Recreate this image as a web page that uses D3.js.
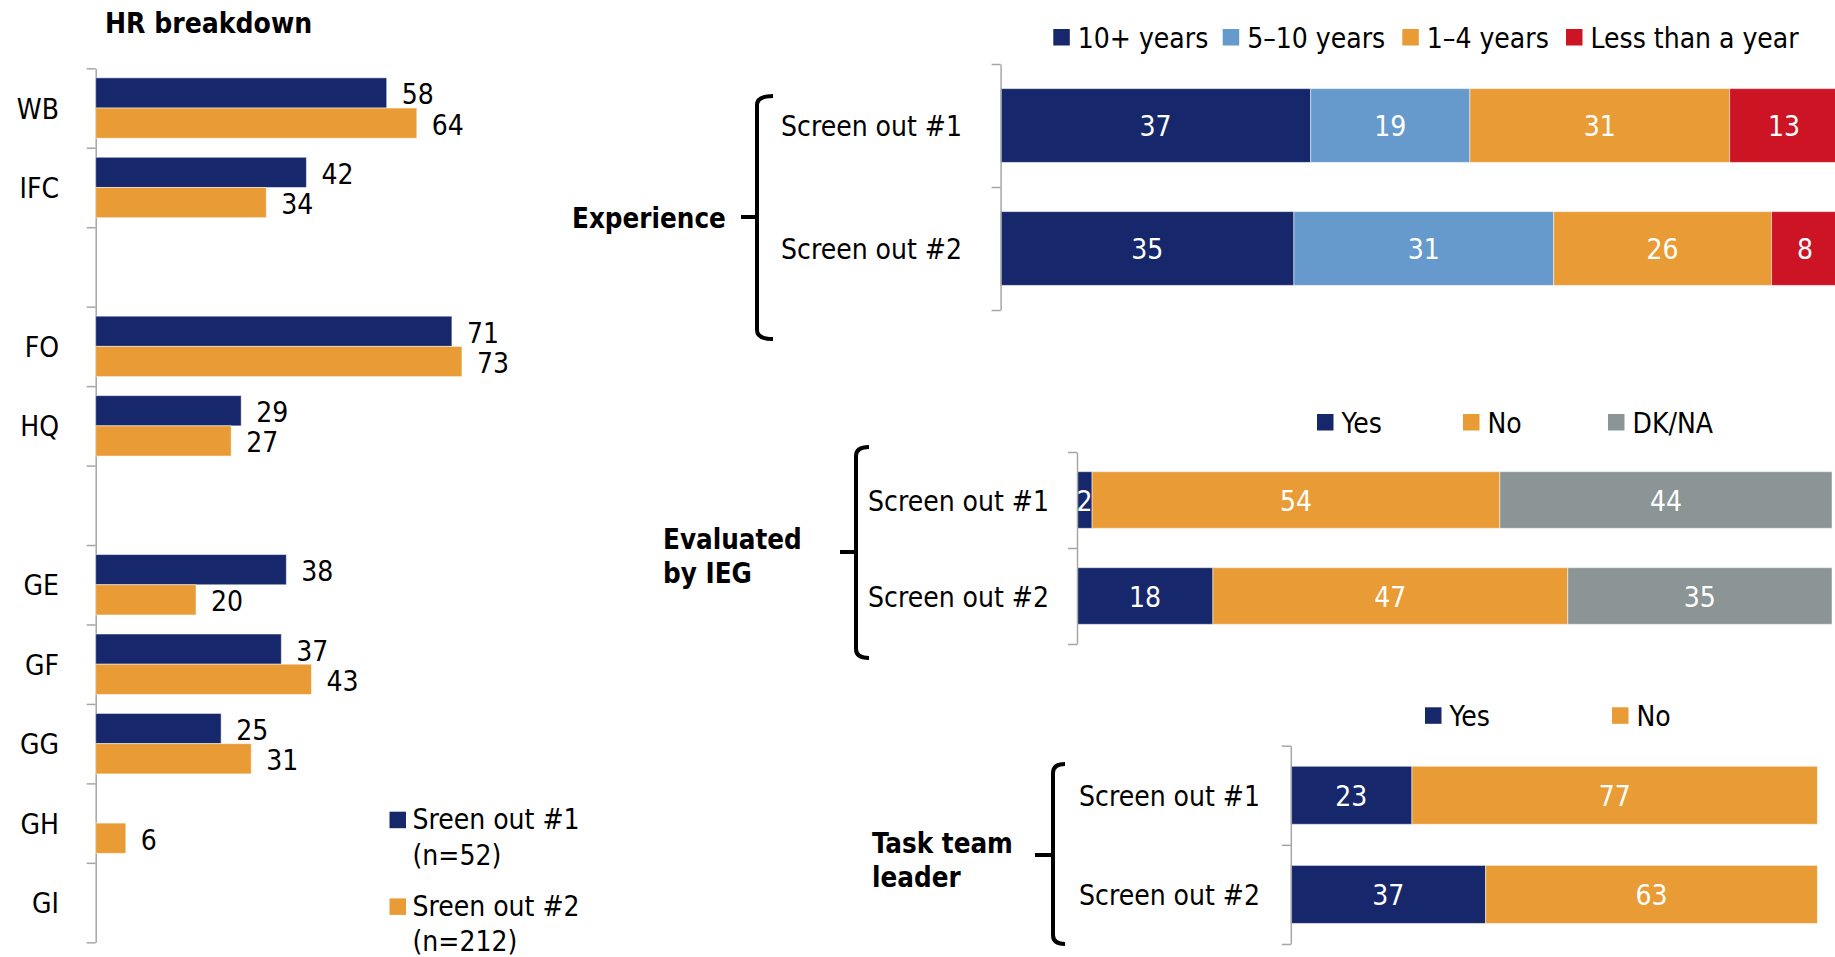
<!DOCTYPE html>
<html>
<head>
<meta charset="utf-8">
<script src="https://cdn.jsdelivr.net/npm/d3@7"></script>
<style>
  body { margin: 0; background: #fff; }
  svg { display: block; }
</style>
</head>
<body>
<svg id="chart" width="1835" height="957"></svg>
<script>
// HR breakdown (left chart)
const hrCategories = ["WB", "IFC", "", "FO", "HQ", " ", "GE", "GF", "GG", "GH", "GI"];
const hrScreen1 = [58, 42, null, 71, 29, null, 38, 37, 25, null, null];
const hrScreen2 = [64, 34, null, 73, 27, null, 20, 43, 31, 6, null];
const hrSeries = ["Sreen out #1", "Sreen out #2"];
const hrSeriesN = ["(n=52)", "(n=212)"];

// stacked charts (right)
const rowLabels = ["Screen out #1", "Screen out #2"];

const expKeys = ["10+ years", "5–10 years", "1–4 years", "Less than a year"];
const exp10plus = [37, 35];
const exp5to10 = [19, 31];
const exp1to4 = [31, 26];
const expLess = [13, 8];

const iegKeys = ["Yes", "No", "DK/NA"];
const iegYes = [2, 18];
const iegNo = [54, 47];
const iegDk = [44, 35];

const ttlKeys = ["Yes", "No"];
const ttlYes = [23, 37];
const ttlNo = [77, 63];

const navy = "#16286b", orange = "#e99b35", lblue = "#6699cc", red = "#cc1424", grey = "#8c9595";
const axisGrey = "#a6a6a6";
const FONT = "'DejaVu Sans Condensed', 'DejaVu Sans', sans-serif";
const FS = 28;

const svg = d3.select("#chart")
    .style("font-family", FONT);

// ---------- left chart ----------
const hrX = d3.scaleLinear().domain([0, 100]).range([95.7, 597.4]);
const hrY = d3.scaleBand().domain(hrCategories).range([68.3, 942.3]);
const hrInner = d3.scaleBand().domain([0, 1])
    .range([0, hrY.bandwidth()]).paddingOuter(0.315);

const left = svg.append("g");

left.append("text")
    .attr("x", 105).attr("y", 33)
    .style("font-weight", "bold").style("font-size", "28px")
    .text("HR breakdown");

const hrAxisScale = d3.scaleLinear().domain([0, hrCategories.length]).range(hrY.range());
left.append("g")
    .attr("transform", `translate(${hrX(0)},0)`)
    .call(d3.axisLeft(hrAxisScale).tickValues(d3.range(hrCategories.length + 1))
        .tickSize(9).tickSizeOuter(0).tickFormat(""))
    .call(g => g.selectAll("path,line").attr("stroke", axisGrey).attr("stroke-width", 1.5));

left.selectAll("text.cat")
    .data(hrCategories)
    .join("text")
    .attr("class", "cat")
    .attr("x", 59)
    .attr("y", d => hrY(d) + hrY.bandwidth() / 2)
    .attr("dy", "0.38em")
    .attr("text-anchor", "end")
    .style("font-size", FS + "px")
    .text(d => d.trim());

const hrData = [];
hrCategories.forEach((c, i) => {
    [hrScreen1[i], hrScreen2[i]].forEach((v, s) => {
        if (v != null) hrData.push({cat: c, s: s, v: v});
    });
});

left.selectAll("rect.hr")
    .data(hrData)
    .join("rect")
    .attr("class", "hr")
    .attr("x", hrX(0))
    .attr("y", d => hrY(d.cat) + hrInner(d.s))
    .attr("width", d => hrX(d.v) - hrX(0))
    .attr("height", hrInner.bandwidth())
    .attr("fill", d => d.s === 0 ? navy : orange)
    .attr("stroke", "rgba(255,255,255,0.5)")
    .attr("stroke-width", 1);

left.selectAll("text.hrv")
    .data(hrData)
    .join("text")
    .attr("class", "hrv")
    .attr("x", d => hrX(d.v) + 15)
    .attr("y", d => hrY(d.cat) + hrInner(d.s) + hrInner.bandwidth() / 2)
    .attr("dy", "0.41em")
    .style("font-size", FS + "px")
    .text(d => d.v);

// legend
const hrLeg = left.selectAll("g.hrleg")
    .data(hrSeries)
    .join("g")
    .attr("class", "hrleg")
    .attr("transform", (d, i) => `translate(389.5,${811.7 + i * 86.7})`);
hrLeg.append("rect")
    .attr("width", 16.5).attr("height", 16.5)
    .attr("fill", (d, i) => i === 0 ? navy : orange);
hrLeg.append("text")
    .attr("x", 23).attr("y", 17.6)
    .style("font-size", FS + "px")
    .text(d => d);
hrLeg.append("text")
    .attr("x", 23).attr("y", 53)
    .style("font-size", FS + "px")
    .text((d, i) => hrSeriesN[i]);

// ---------- stacked charts ----------
function drawStacked(cfg) {
    const g = svg.append("g");
    const table = rowLabels.map((r, i) => {
        const o = {row: r};
        cfg.keys.forEach((k, j) => o[k] = cfg.values[j][i]);
        return o;
    });
    const series = d3.stack().keys(cfg.keys)(table);

    const x = d3.scaleLinear().domain([0, 100]).range(cfg.xRange);
    const y = d3.scaleBand().domain(rowLabels).range(cfg.yRange);
    const color = d3.scaleOrdinal().domain(cfg.keys).range(cfg.colors);
    const off = y.bandwidth() * (1 - cfg.barFrac) / 2;
    const bh = y.bandwidth() * cfg.barFrac;

    const layer = g.selectAll("g.layer")
        .data(series)
        .join("g")
        .attr("fill", d => color(d.key));

    layer.selectAll("rect")
        .data(d => d)
        .join("rect")
        .attr("x", d => x(d[0]))
        .attr("y", d => y(d.data.row) + off)
        .attr("width", d => x(d[1]) - x(d[0]))
        .attr("height", bh)
        .attr("stroke", "rgba(255,255,255,0.5)")
        .attr("stroke-width", 1);

    layer.selectAll("text")
        .data(d => d)
        .join("text")
        .attr("x", d => (x(d[0]) + x(d[1])) / 2)
        .attr("y", d => y(d.data.row) + y.bandwidth() / 2)
        .attr("dy", "0.39em")
        .attr("text-anchor", "middle")
        .attr("fill", "#fff")
        .style("font-size", FS + "px")
        .text(d => d[1] - d[0]);

    // axis
    const axScale = d3.scaleLinear().domain([0, rowLabels.length]).range(cfg.yRange);
    g.append("g")
        .attr("transform", `translate(${x(0)},0)`)
        .call(d3.axisLeft(axScale).tickValues(d3.range(rowLabels.length + 1))
            .tickSize(9).tickSizeOuter(0).tickFormat(""))
        .call(a => a.selectAll("path,line").attr("stroke", axisGrey).attr("stroke-width", 1.5));

    // row labels
    g.selectAll("text.row")
        .data(rowLabels)
        .join("text")
        .attr("class", "row")
        .attr("x", cfg.labelRight)
        .attr("y", d => y(d) + y.bandwidth() / 2)
        .attr("dy", "0.39em")
        .attr("text-anchor", "end")
        .style("font-size", FS + "px")
        .text(d => d);

    // legend
    const leg = g.selectAll("g.leg")
        .data(cfg.keys)
        .join("g")
        .attr("class", "leg")
        .attr("transform", (d, i) => `translate(${cfg.legendX[i]},${cfg.legendY})`);
    leg.append("rect")
        .attr("width", 16.5).attr("height", 16.5)
        .attr("fill", d => color(d));
    leg.append("text")
        .attr("x", 24.5).attr("y", 18.5)
        .style("font-size", FS + "px")
        .text(d => d);

    // brace
    const b = cfg.brace;
    const r = 9;
    g.append("path")
        .attr("d", `M${b.x + b.hook},${b.top} Q${b.x},${b.top} ${b.x},${b.top + r}
            L${b.x},${b.bottom - r} Q${b.x},${b.bottom} ${b.x + b.hook},${b.bottom}
            M${b.x},${b.mid} L${b.tip},${b.mid}`)
        .attr("fill", "none")
        .attr("stroke", "#000")
        .attr("stroke-width", 4);

    // group title
    g.selectAll("text.title")
        .data(cfg.title)
        .join("text")
        .attr("class", "title")
        .attr("x", cfg.titleX)
        .attr("y", (d, i) => cfg.titleY + i * 34)
        .style("font-weight", "bold")
        .style("font-size", "27.5px")
        .text(d => d);
}

drawStacked({
    keys: expKeys,
    values: [exp10plus, exp5to10, exp1to4, expLess],
    colors: [navy, lblue, orange, red],
    xRange: [1000.6, 1838.6],
    yRange: [64, 310],
    barFrac: 0.6,
    labelRight: 962,
    legendX: [1053.3, 1222.7, 1402.3, 1566],
    legendY: 29,
    brace: {x: 757, top: 96, bottom: 339, mid: 217, tip: 741, hook: 16},
    title: ["Experience"],
    titleX: 572,
    titleY: 227.7
});

drawStacked({
    keys: iegKeys,
    values: [iegYes, iegNo, iegDk],
    colors: [navy, orange, grey],
    xRange: [1077, 1832],
    yRange: [452, 644],
    barFrac: 0.59,
    labelRight: 1049,
    legendX: [1317, 1463, 1608],
    legendY: 414,
    brace: {x: 856, top: 447, bottom: 658, mid: 552, tip: 840, hook: 13},
    title: ["Evaluated", "by IEG"],
    titleX: 663,
    titleY: 549.3
});

drawStacked({
    keys: ttlKeys,
    values: [ttlYes, ttlNo],
    colors: [navy, orange],
    xRange: [1290.8, 1817.4],
    yRange: [745.7, 944],
    barFrac: 0.585,
    labelRight: 1260,
    legendX: [1425, 1612],
    legendY: 707.3,
    brace: {x: 1053, top: 764, bottom: 944, mid: 855, tip: 1035, hook: 12},
    title: ["Task team", "leader"],
    titleX: 872,
    titleY: 852.7
});
</script>
</body>
</html>
